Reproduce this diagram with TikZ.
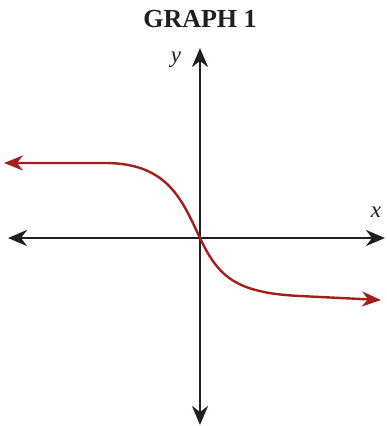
\documentclass[tikz,border=0pt]{standalone}
\usepackage{fontspec}
\setmainfont{Liberation Serif}
\usetikzlibrary{arrows.meta}
\definecolor{axisblack}{HTML}{231F20}
\definecolor{curvered}{HTML}{A3201A}
\begin{document}
\begin{tikzpicture}[x=1pt,y=-1pt,
  axisline/.style={draw=axisblack,line width=2.6pt,{Stealth[length=19pt,width=16pt,inset=6pt]}-{Stealth[length=19pt,width=16pt,inset=6pt]}},
  curveline/.style={draw=curvered,line width=2.4pt,{Stealth[length=19pt,width=15pt,inset=6pt]}-{Stealth[length=19pt,width=15pt,inset=6pt]}},
  lbl/.style={font=\fontsize{23}{23}\selectfont\itshape,text=axisblack,inner sep=0pt}]
\useasboundingbox (0,0) rectangle (386,426);
\node[font=\fontsize{26}{26}\selectfont\bfseries,text=axisblack,inner sep=0pt] (title) at (200,19) {GRAPH 1};
\coordinate (ytop) at (200,48);
\coordinate (ybot) at (200,425);
\coordinate (xleft) at (8,238);
\coordinate (xright) at (385,238);
\coordinate (cl) at (4,163);
\coordinate (cr) at (381,300);
\coordinate (o) at (200,238);
\draw[axisline] (ytop) -- (ybot);
\draw[axisline] (xleft) -- (xright);
\draw[curveline] (cl) -- (105,163) .. controls (168,163) and (182,200) .. (o) .. controls (218,276) and (235,293) .. (300,296) -- (cr);
\node[lbl] (ylab) at (176,60) {y};
\node[lbl] (xlab) at (376,212) {x};
\end{tikzpicture}
\end{document}
